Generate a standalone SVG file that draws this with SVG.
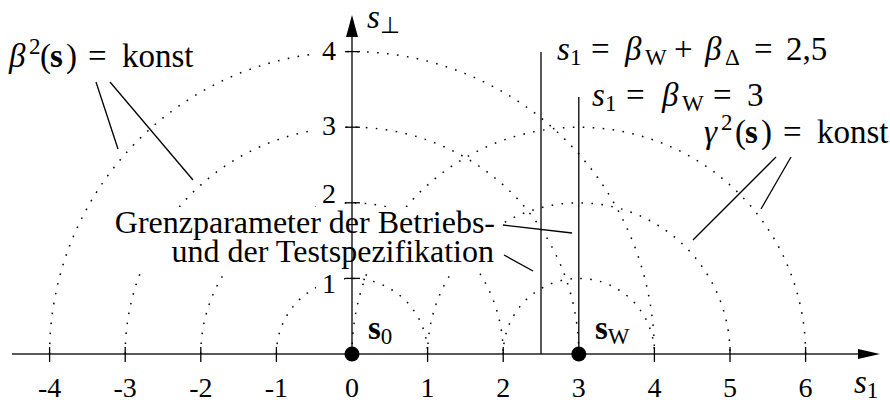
<svg xmlns="http://www.w3.org/2000/svg" width="890" height="403" viewBox="0 0 890 403">
<style>
.dot{fill:none;stroke:#000;stroke-width:1.5;stroke-dasharray:1.6 8.4}
.ln{stroke:#000;stroke-width:1.3;fill:none}
.ax{stroke:#222;stroke-width:1.6;fill:none}
.tk{stroke:#000;stroke-width:1.3}
.t{font-family:'Liberation Serif','Times New Roman',serif;font-size:28px;fill:#000}
.m{font-family:'Liberation Serif','Times New Roman',serif;font-size:33px;fill:#000}
.g{font-family:'Liberation Serif','Times New Roman',serif;font-size:32px;fill:#000}
.i{font-style:italic}
.b{font-weight:bold}
.s{font-size:23px}
.wb{fill:#fff;stroke:none}
</style>
<rect width="890" height="403" fill="#fff"/>
<g id="circles">
<path class="dot" d="M276.4,354 A75.6,75.6 0 0 1 427.6,354"/>
<path class="dot" d="M200.8,354 A151.2,151.2 0 0 1 503.2,354"/>
<path class="dot" d="M125.2,354 A226.8,226.8 0 0 1 578.8,354"/>
<path class="dot" d="M49.6,354 A302.4,302.4 0 0 1 654.4,354"/>
<path class="dot" d="M503.2,354 A75.6,75.6 0 0 1 654.4,354"/>
<path class="dot" d="M427.6,354 A151.2,151.2 0 0 1 730,354"/>
<path class="dot" d="M352,354 A226.8,226.8 0 0 1 805.6,354"/>
</g>
<g id="label-boxes">
<rect class="wb" x="115" y="207" width="386" height="63"/>
<rect class="wb" x="316" y="38" width="28" height="26"/>
<rect class="wb" x="316" y="113" width="28" height="26"/>
<rect class="wb" x="316" y="182" width="28" height="26"/>
<rect class="wb" x="316" y="268" width="28" height="28"/>
</g>
<g id="axes">
<line class="ax" x1="12" y1="354" x2="862" y2="354"/>
<polygon points="858,349 880,354 858,359" fill="#000"/>
<line class="ln" x1="352" y1="354" x2="352" y2="35"/>
<polygon points="346,37 352,15 358,37" fill="#000"/>
<g class="tk">
<line x1="49.6" y1="347" x2="49.6" y2="362"/>
<line x1="125.2" y1="347" x2="125.2" y2="362"/>
<line x1="200.8" y1="347" x2="200.8" y2="362"/>
<line x1="276.4" y1="347" x2="276.4" y2="362"/>
<line x1="427.6" y1="347" x2="427.6" y2="362"/>
<line x1="503.2" y1="347" x2="503.2" y2="362"/>
<line x1="654.4" y1="347" x2="654.4" y2="362"/>
<line x1="730" y1="347" x2="730" y2="362"/>
<line x1="805.6" y1="347" x2="805.6" y2="362"/>
<line x1="345" y1="51.6" x2="360" y2="51.6"/>
<line x1="345" y1="127.2" x2="360" y2="127.2"/>
<line x1="345" y1="202.8" x2="360" y2="202.8"/>
<line x1="345" y1="278.4" x2="360" y2="278.4"/>
</g>
<g class="t" text-anchor="middle">
<text x="49.6" y="397">-4</text>
<text x="125.2" y="397">-3</text>
<text x="200.8" y="397">-2</text>
<text x="276.4" y="397">-1</text>
<text x="352" y="397">0</text>
<text x="427.6" y="397">1</text>
<text x="503.2" y="397">2</text>
<text x="578.8" y="397">3</text>
<text x="654.4" y="397">4</text>
<text x="730" y="397">5</text>
<text x="805.6" y="397">6</text>
<text x="329" y="60">4</text>
<text x="329" y="135">3</text>
<text x="329" y="203">2</text>
<text x="329" y="293">1</text>
</g>
<text class="m i" x="854" y="393">s<tspan class="s" font-style="normal" dy="5">1</tspan></text>
<text class="m i" x="367" y="28">s<tspan class="s" font-style="normal" dy="5">⊥</tspan></text>
</g>
<g id="limits">
<line class="ln" x1="541" y1="52" x2="541" y2="354"/>
<line class="ln" x1="578.8" y1="97" x2="578.8" y2="354"/>
</g>
<g id="s0">
<circle cx="352" cy="354" r="7.5" fill="#000"/>
<text class="m" x="368" y="339"><tspan class="b">s</tspan><tspan class="s" dy="5">0</tspan></text>
</g>
<g id="sW">
<circle cx="578.8" cy="354" r="7.5" fill="#000"/>
<text class="m" x="595" y="339"><tspan class="b">s</tspan><tspan class="s" dy="5">W</tspan></text>
</g>
<g id="connectors">
<line class="ln" x1="96" y1="82" x2="118" y2="149"/>
<line class="ln" x1="110" y1="82" x2="193" y2="180"/>
<line class="ln" x1="776" y1="157" x2="693" y2="240"/>
<line class="ln" x1="791" y1="157" x2="761" y2="209"/>
<line class="ln" x1="503" y1="225" x2="572" y2="233"/>
<line class="ln" x1="504" y1="255" x2="533" y2="271"/>
</g>
<g id="beta-label">
<text class="m" y="67"><tspan class="i" x="9">β</tspan><tspan class="s" x="29" dy="-13">2</tspan><tspan x="40" dy="13">(</tspan><tspan class="b" x="50">s</tspan><tspan x="66">)</tspan><tspan x="88">=</tspan><tspan x="122">konst</tspan></text>
</g>
<g id="gamma-label">
<text class="m" y="143"><tspan class="i" x="704">γ</tspan><tspan class="s" x="721" dy="-13">2</tspan><tspan x="735" dy="13">(</tspan><tspan class="b" x="745">s</tspan><tspan x="761">)</tspan><tspan x="783">=</tspan><tspan x="817">konst</tspan></text>
</g>
<g id="limit-label-1">
<text class="m" y="60"><tspan class="i" x="557">s</tspan><tspan class="s" x="570" dy="5">1</tspan><tspan x="591" dy="-5">=</tspan><tspan class="i" x="625">β</tspan><tspan class="s" x="645" dy="5">W</tspan><tspan x="674" dy="-5">+</tspan><tspan class="i" x="705">β</tspan><tspan class="s" x="725" dy="5">Δ</tspan><tspan x="754" dy="-5">=</tspan><tspan x="786">2,5</tspan></text>
</g>
<g id="limit-label-2">
<text class="m" y="106"><tspan class="i" x="592">s</tspan><tspan class="s" x="605" dy="5">1</tspan><tspan x="626" dy="-5">=</tspan><tspan class="i" x="662">β</tspan><tspan class="s" x="682" dy="5">W</tspan><tspan x="713" dy="-5">=</tspan><tspan x="747">3</tspan></text>
</g>
<g id="grenz-label">
<text class="g" x="495" y="233" text-anchor="end">Grenzparameter der Betriebs-</text>
<text class="g" x="494" y="262" text-anchor="end">und der Testspezifikation</text>
</g>
</svg>
